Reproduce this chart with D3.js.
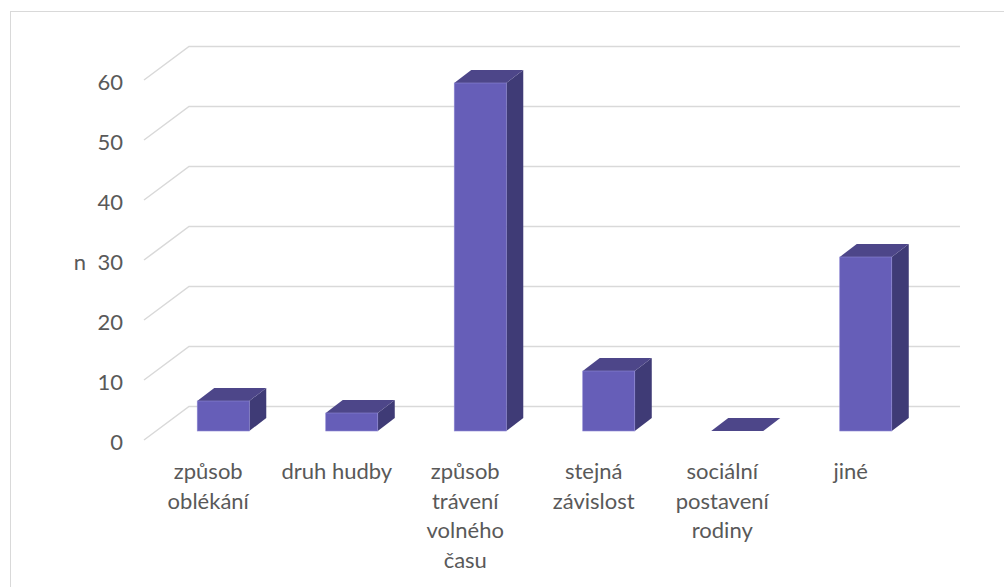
<!DOCTYPE html>
<html>
<head>
<meta charset="utf-8">
<script src="https://cdn.jsdelivr.net/npm/d3@7"></script>
<style>
  html, body { margin: 0; padding: 0; background: #fff; }
  svg { display: block; }
  text { font-family: Lato, "Open Sans", sans-serif; fill: #595959; }
</style>
</head>
<body>
<svg id="chart" width="1004" height="587"></svg>
<script>
const categories = ["způsob oblékání", "druh hudby", "způsob trávení volného času", "stejná závislost", "sociální postavení rodiny", "jiné"];
const values = [5, 3, 58, 10, 0, 29];
const tickValues = [0, 10, 20, 30, 40, 50, 60];
const axisTitle = "n";

const svg = d3.select("#chart");
const W = 1004, H = 587;
const FS = 22;

// frame
svg.append("rect").attr("x", 10.5).attr("y", 11.5).attr("width", W + 10).attr("height", H + 10)
  .attr("fill", "#fff").attr("stroke", "#D9D9D9").attr("stroke-width", 1);

// scales (front plane of the floor)
const x = d3.scaleBand().domain(categories).range([144, 915]).paddingInner(0).paddingOuter(0);
const y = d3.scaleLinear().domain([0, 60]).range([440, 80]);
const depth = { dx: 45, dy: -33.5 };
const backRight = x.range()[1] + depth.dx;

// gridlines
const grid = svg.append("g");
tickValues.forEach(t => {
  const fx = x.range()[0], fy = y(t);
  grid.append("path")
    .attr("d", `M${fx},${fy} L${fx + depth.dx},${fy + depth.dy} L${backRight},${fy + depth.dy}`)
    .attr("fill", "none").attr("stroke", "#D9D9D9").attr("stroke-width", 1.5);
});

// tick labels
svg.append("g").selectAll("text").data(tickValues).join("text")
  .attr("x", 123).attr("y", d => y(d) + 9.5)
  .attr("text-anchor", "end").attr("font-size", FS).text(d => d);

// axis title
svg.append("text").attr("x", 80).attr("y", y(30) + 9.5).attr("text-anchor", "middle")
  .attr("font-size", FS).text(axisTitle);

// bars
const bw = x.bandwidth();
const barW = bw * 0.405;
const front = { dx: 12, dy: -9 };   // bar front face position in depth
const side = { dx: 17, dy: -13 };   // bar depth
const bars = svg.append("g");
categories.forEach((c, i) => {
  const v = values[i];
  const x0 = x(c) + bw / 2 - barW / 2 + front.dx + 3;
  const x1 = x0 + barW;
  const yb = y(0) + front.dy;
  const yt = y(v) + front.dy;
  const g = bars.append("g");
  if (yb - yt > 0) {
    g.append("path")
      .attr("d", `M${x1},${yt} L${x1 + side.dx},${yt + side.dy} L${x1 + side.dx},${yb + side.dy} L${x1},${yb} Z`)
      .attr("fill", "#3F3B76");
  }
  g.append("path")
    .attr("d", `M${x0},${yt} L${x0 + side.dx},${yt + side.dy} L${x1 + side.dx},${yt + side.dy} L${x1},${yt} Z`)
    .attr("fill", "#4D4689");
  if (yb - yt > 0) {
    g.append("rect").attr("x", x0).attr("y", yt).attr("width", barW).attr("height", yb - yt)
      .attr("fill", "#665EB8").attr("stroke", "#8E88D4").attr("stroke-width", 0.6);
  }
});

// category labels
const labelG = svg.append("g");
const maxW = 118, lineH = 29.5, firstBase = 479;
categories.forEach(c => {
  const cx = x(c) + bw / 2;
  const t = labelG.append("text").attr("text-anchor", "middle").attr("font-size", FS);
  const words = c.split(" ");
  let lines = [], cur = [];
  const tmp = svg.append("text").attr("font-size", FS);
  words.forEach(w => {
    const test = cur.concat([w]).join(" ");
    tmp.text(test);
    if (cur.length && tmp.node().getComputedTextLength() > maxW) {
      lines.push(cur.join(" "));
      cur = [w];
    } else cur.push(w);
  });
  if (cur.length) lines.push(cur.join(" "));
  tmp.remove();
  lines.forEach((l, k) => {
    t.append("tspan").attr("x", cx).attr("y", firstBase + k * lineH).text(l);
  });
});
</script>
</body>
</html>
